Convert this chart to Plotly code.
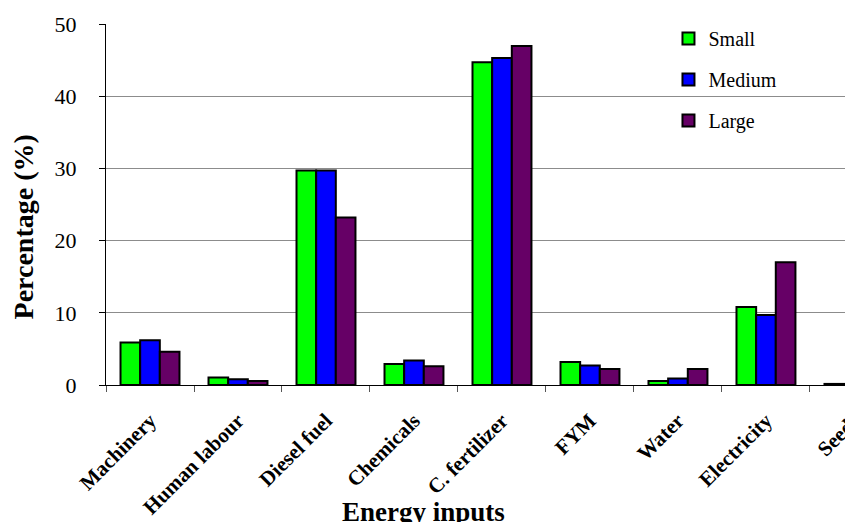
import plotly.graph_objects as go

categories = ["Machinery", "Human labour", "Diesel fuel", "Chemicals", "C. fertilizer",
              "FYM", "Water", "Electricity", "Seeds"]
small = [5.9, 1.05, 29.7, 2.9, 44.7, 3.2, 0.55, 10.8, 0.15]
medium = [6.2, 0.8, 29.7, 3.4, 45.3, 2.7, 0.9, 9.7, 0.15]
large = [4.6, 0.55, 23.2, 2.6, 46.95, 2.2, 2.2, 17.0, 0.15]
series_names = ["Small", "Medium", "Large"]
series_colors = ["#00FF00", "#0000FF", "#660066"]
y_ticks = [0, 10, 20, 30, 40, 50]
x_title = "Energy inputs"
y_title = "Percentage (%)"

SERIF = "Liberation Serif, Times New Roman, serif"

fig = go.Figure()
for name, vals, col in zip(series_names, [small, medium, large], series_colors):
    fig.add_trace(go.Bar(
        x=categories, y=vals, name=name, legendgroup=name,
        marker=dict(color=col, line=dict(color="black", width=2)),
    ))

fig.update_layout(
    width=853, height=522,
    margin=dict(l=98, r=0, t=16, b=145),
    paper_bgcolor="white", plot_bgcolor="white",
    barmode="group", bargap=0.33, bargroupgap=0,
    font=dict(family=SERIF, color="black"),
    showlegend=True,
    legend=dict(
        x=0.745, y=1.014, xanchor="left", yanchor="top",
        bgcolor="rgba(0,0,0,0)", font=dict(size=20, family=SERIF),
        traceorder="grouped", tracegroupgap=12, itemclick=False,
    ),
)

fig.update_xaxes(
    type="category", range=[-0.5, 8.08], automargin=False,
    showline=True, linecolor="black", linewidth=1,
    ticks="outside", tickson="boundaries", ticklen=6, tickcolor="#555555",
    tickangle=-45, ticklabelstandoff=14,
    tickfont=dict(size=21, family=SERIF, weight="bold"),
    showgrid=False,
)
fig.update_yaxes(
    range=[0, 50], tickvals=y_ticks, automargin=False,
    showline=True, linecolor="black", linewidth=1,
    ticks="outside", ticklen=6, tickcolor="black", ticklabelstandoff=18,
    tickfont=dict(size=22, family=SERIF),
    showgrid=True, gridcolor="#8c8c8c", gridwidth=1,
    zeroline=False,
)

# Axis titles (placed off-centre as in the original)
fig.add_annotation(
    text=x_title, xref="paper", yref="paper", x=0.42, y=-0.352,
    xanchor="center", yanchor="middle", showarrow=False,
    font=dict(size=27, family=SERIF, weight="bold", color="black"),
)
fig.add_annotation(
    text=y_title, xref="paper", yref="paper", x=-0.108, y=0.4377,
    xanchor="center", yanchor="middle", showarrow=False, textangle=-90,
    font=dict(size=28, family=SERIF, weight="bold", color="black"),
)

fig.write_html("out.html")
